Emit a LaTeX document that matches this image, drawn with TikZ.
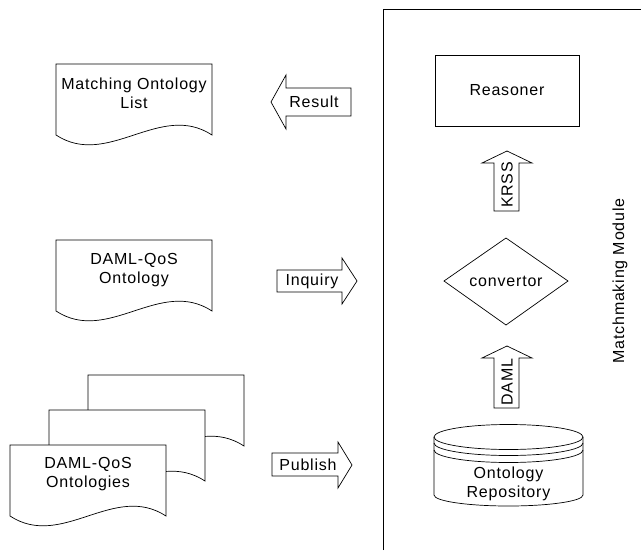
\documentclass[tikz,border=0pt]{standalone}
\usepackage{fontspec}
\setmainfont{Liberation Sans}[LetterSpace=5]
\tikzset{
  lbl/.style={font=\fontsize{16}{19}\selectfont, align=center, inner sep=0pt},
  outline/.style={draw=black, line width=0.7pt, fill=white},
  doc/.pic={\draw[outline] (0,0) -- (156,0) -- (156,71) .. controls (104,37) and (52,105) .. (0,71) -- cycle;},
}
\begin{document}
\begin{tikzpicture}[x=1pt,y=-1pt]
\useasboundingbox (0,0) rectangle (641,550);

% module frame
\coordinate (fb) at (383,550);
\coordinate (fc) at (383,9);
\coordinate (fr) at (641,9);
\draw[line width=0.7pt] (fb) -- (fc) -- (fr);
\node[lbl, rotate=90] (mm) at (620,281) {Matchmaking Module};

% documents
\pic at (56,64) {doc};
\node[lbl] (mol) at (134,93) {Matching Ontology\\List};
\pic at (56,240) {doc};
\node[lbl] (dqo) at (134,270) {DAML-QoS\\Ontology};
\pic at (88,375) {doc};
\pic at (49,410) {doc};
\pic at (10,445) {doc};
\node[lbl] (dqs) at (88,474) {DAML-QoS\\Ontologies};

% block arrows
\draw[outline] (351,88) -- (286,88) -- (286,75) -- (271,102) -- (286,129) -- (286,116) -- (351,116) -- cycle;
\node[lbl] (res) at (314,102) {Result};
\draw[outline] (277,270) -- (342,270) -- (342,258) -- (357,281) -- (342,304) -- (342,292) -- (277,292) -- cycle;
\node[lbl] (inq) at (312,281) {Inquiry};
\draw[outline] (272,453) -- (338,453) -- (338,442) -- (352,465) -- (338,488) -- (338,476) -- (272,476) -- cycle;
\node[lbl] (pub) at (308,465) {Publish};
\draw[outline] (494,211) -- (494,163) -- (482,163) -- (507,151) -- (532,163) -- (519,163) -- (519,211) -- cycle;
\node[lbl, rotate=90] (krss) at (507,185) {KRSS};
\draw[outline] (494,408) -- (494,358) -- (482,358) -- (507,346) -- (532,358) -- (519,358) -- (519,408) -- cycle;
\node[lbl, rotate=90] (daml) at (507,382) {DAML};

% reasoner
\node[lbl, draw, line width=0.7pt, minimum width=144pt, minimum height=71pt] (reas) at (507,90.5) {Reasoner};

% convertor
\draw[outline] (444,281) -- (506,238) -- (568,281) -- (506,325) -- cycle;
\node[lbl] (conv) at (506,281) {convertor};

% repository cylinder
\draw[line width=0.7pt] (434,437) -- (434,495) arc[start angle=180, end angle=360, x radius=74.5, y radius=-11] -- (583,437);
\draw[line width=0.7pt] (508.5,437) ellipse[x radius=74.5, y radius=12.5];
\draw[line width=0.7pt] (434,443) arc[start angle=180, end angle=360, x radius=74.5, y radius=-12.5];
\draw[line width=0.7pt] (434,450) arc[start angle=180, end angle=360, x radius=74.5, y radius=-12.5];
\node[lbl] (repo) at (508.5,483.5) {Ontology\\Repository};
\end{tikzpicture}
\end{document}
